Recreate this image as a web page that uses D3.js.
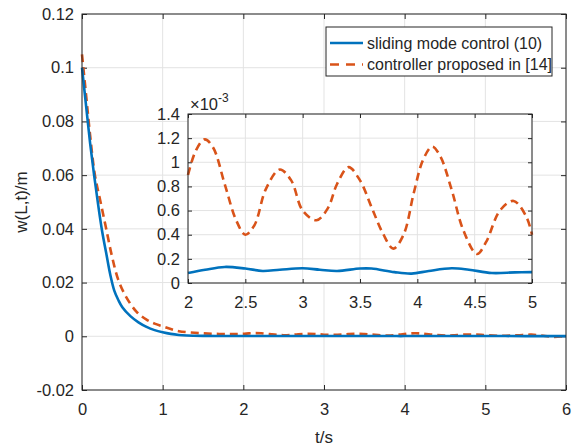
<!DOCTYPE html>
<html>
<head>
<meta charset="utf-8">
<script src="https://cdn.jsdelivr.net/npm/d3@7"></script>
<style>
  body { margin: 0; background: #fff; }
  svg { font-family: "Liberation Sans", Arial, Helvetica, sans-serif; }
  .tick text { fill: #262626; }
</style>
</head>
<body>
<svg id="chart"></svg>
<script>
// early transient, 0..2 s
const tEarly = [0, 0.05, 0.1, 0.15, 0.2, 0.25, 0.3, 0.35, 0.4, 0.45, 0.5, 0.6, 0.7, 0.8, 0.9, 1.0, 1.1, 1.2, 1.3, 1.5, 1.75];
const smcEarly = [0.100, 0.086, 0.072, 0.060, 0.049, 0.039, 0.031, 0.023, 0.017, 0.0135, 0.0108, 0.0075, 0.0052, 0.0035, 0.0023, 0.0015, 0.0009, 0.0005, 0.0003, 0.00015, 0.0001];
const tEarlyRef = [0, 0.05, 0.1, 0.16, 0.23, 0.3, 0.37, 0.45, 0.55, 0.68, 0.8, 0.9, 1.0, 1.1, 1.2, 1.35, 1.5, 1.65, 1.8, 1.9];
const refEarly = [0.105, 0.090, 0.075, 0.060, 0.050, 0.040, 0.030, 0.021, 0.0145, 0.009, 0.0062, 0.0047, 0.0037, 0.0027, 0.0019, 0.0014, 0.0011, 0.0009, 0.0008, 0.0008];

// zoomed window 2..5 s, values in 1e-3 m
const tInsetSmc = [2.0, 2.15, 2.32, 2.5, 2.65, 2.8, 3.0, 3.15, 3.3, 3.5, 3.6, 3.8, 3.95, 4.1, 4.3, 4.45, 4.65, 4.85, 5.0];
const smcInset = [0.083, 0.11, 0.133, 0.12, 0.10, 0.11, 0.122, 0.11, 0.10, 0.12, 0.12, 0.09, 0.078, 0.10, 0.122, 0.11, 0.083, 0.088, 0.09];
const tInsetRef = [2.0, 2.07, 2.146, 2.22, 2.32, 2.42, 2.5, 2.58, 2.68, 2.8, 2.9, 3.0, 3.12, 3.22, 3.3, 3.4, 3.5, 3.6, 3.7, 3.79, 3.88, 3.97, 4.05, 4.13, 4.2, 4.3, 4.4, 4.52, 4.6, 4.72, 4.84, 4.95, 5.0];
const refInset = [0.895, 1.10, 1.19, 1.12, 0.82, 0.52, 0.40, 0.48, 0.78, 0.94, 0.85, 0.60, 0.52, 0.62, 0.82, 0.96, 0.85, 0.63, 0.41, 0.285, 0.40, 0.75, 1.02, 1.13, 1.05, 0.77, 0.44, 0.24, 0.34, 0.60, 0.68, 0.55, 0.40];

// tail 5..6 s
const tLate = [5.25, 5.5, 5.75, 6.0];
const smcLate = [0.00008, 0.00007, 0.00006, 0.00005];
const tLateRef = [5.2, 5.4, 5.57, 5.72, 5.85, 6.0];
const refLate = [0.0002, 0.0004, 0.0006, 0.0002, -0.0002, 0.0001];

const xTicks = [0, 1, 2, 3, 4, 5, 6];
const yTicks = [-0.02, 0, 0.02, 0.04, 0.06, 0.08, 0.1, 0.12];
const insetXTicks = [2, 2.5, 3, 3.5, 4, 4.5, 5];
const insetYTicks = [0, 0.2, 0.4, 0.6, 0.8, 1, 1.2, 1.4];
const seriesNames = ["sliding mode control (10)", "controller proposed in [14]"];

const zip = (ts, vs, k = 1) => ts.map((t, i) => [t, vs[i] * k]);
const smcInsetPts = zip(tInsetSmc, smcInset);
const refInsetPts = zip(tInsetRef, refInset);
const smcAll = zip(tEarly, smcEarly).concat(zip(tInsetSmc, smcInset, 1e-3), zip(tLate, smcLate));
const refAll = zip(tEarlyRef, refEarly).concat(zip(tInsetRef, refInset, 1e-3), zip(tLateRef, refLate));

const width = 578, height = 447;
const blue = "#0072BD", orange = "#D95319", ink = "#262626", gridC = "#e3e3e3";
const svg = d3.select("#chart").attr("width", width).attr("height", height);

const m = { left: 82, top: 14, right: 566, bottom: 390 };
const x = d3.scaleLinear().domain([0, 6]).range([m.left, m.right]);
const y = d3.scaleLinear().domain([-0.02, 0.12]).range([m.bottom, m.top]);

const drawAxes = (g, xs, ys, xt, yt, fmtX, fmtY, tick, fs) => {
  const [x0, x1] = xs.range(), [y0, y1] = ys.range();
  g.append("rect").attr("x", x0).attr("y", y1).attr("width", x1 - x0).attr("height", y0 - y1).attr("fill", "#fff");
  // grid
  g.selectAll(".gx").data(xt).enter().append("line")
    .attr("x1", d => xs(d)).attr("x2", d => xs(d)).attr("y1", y0).attr("y2", y1)
    .attr("stroke", gridC).attr("stroke-width", 1);
  g.selectAll(".gy").data(yt).enter().append("line")
    .attr("y1", d => ys(d)).attr("y2", d => ys(d)).attr("x1", x0).attr("x2", x1)
    .attr("stroke", gridC).attr("stroke-width", 1);

  const style = (a) => {
    a.select(".domain").remove();
    a.selectAll(".tick line").attr("stroke", ink);
    a.selectAll("text").attr("font-size", fs).attr("font-family", null);
  };
  g.append("g").attr("transform", `translate(0,${y0})`)
    .call(d3.axisBottom(xs).tickValues(xt).tickFormat(fmtX).tickSizeInner(-tick).tickSizeOuter(0).tickPadding(13))
    .call(style);
  g.append("g").attr("transform", `translate(0,${y1})`)
    .call(d3.axisTop(xs).tickValues(xt).tickFormat("").tickSizeInner(-tick).tickSizeOuter(0))
    .call(style);
  g.append("g").attr("transform", `translate(${x0},0)`)
    .call(d3.axisLeft(ys).tickValues(yt).tickFormat(fmtY).tickSizeInner(-tick).tickSizeOuter(0).tickPadding(8))
    .call(style);
  g.append("g").attr("transform", `translate(${x1},0)`)
    .call(d3.axisRight(ys).tickValues(yt).tickFormat("").tickSizeInner(-tick).tickSizeOuter(0))
    .call(style);
};

const frame = (g, xs, ys) => {
  const [x0, x1] = xs.range(), [y0, y1] = ys.range();
  g.append("rect").attr("x", x0).attr("y", y1).attr("width", x1 - x0).attr("height", y0 - y1)
    .attr("fill", "none").attr("stroke", ink).attr("stroke-width", 1);
};

const fmt = d => String(d);

// main axes
const main = svg.append("g");
drawAxes(main, x, y, xTicks, yTicks, fmt, fmt, 5, 16.5);

const line = (xs, ys) => d3.line().x(d => xs(d[0])).y(d => ys(d[1])).curve(d3.curveCatmullRom);

main.append("path").datum(refAll).attr("d", line(x, y))
  .attr("fill", "none").attr("stroke", orange).attr("stroke-width", 2.6).attr("stroke-dasharray", "8,5");
main.append("path").datum(smcAll).attr("d", line(x, y))
  .attr("fill", "none").attr("stroke", blue).attr("stroke-width", 2.6);
frame(main, x, y);

// labels
svg.append("text").attr("x", (m.left + m.right) / 2).attr("y", 443)
  .attr("text-anchor", "middle").attr("font-size", 17).attr("fill", ink).text("t/s");
svg.append("text").attr("transform", `translate(27,${(m.top + m.bottom) / 2}) rotate(-90)`)
  .attr("text-anchor", "middle").attr("font-size", 17).attr("fill", ink).text("w(L,t)/m");

// inset
const xi = d3.scaleLinear().domain([2, 5]).range([188, 532]);
const yi = d3.scaleLinear().domain([0, 1.4]).range([283, 114]);
const inset = svg.append("g");
drawAxes(inset, xi, yi, insetXTicks, insetYTicks, fmt, fmt, 4, 16.5);
inset.append("path").datum(refInsetPts).attr("d", line(xi, yi))
  .attr("fill", "none").attr("stroke", orange).attr("stroke-width", 2.6).attr("stroke-dasharray", "8,5");
inset.append("path").datum(smcInsetPts).attr("d", line(xi, yi))
  .attr("fill", "none").attr("stroke", blue).attr("stroke-width", 2.6);
frame(inset, xi, yi);
const exp = inset.append("text").attr("x", 190).attr("y", 110).attr("font-size", 16.5).attr("fill", ink);
exp.append("tspan").text("\u00d710");
exp.append("tspan").attr("dy", -8).attr("font-size", 12).text("-3");

// legend
const lg = svg.append("g");
lg.append("rect").attr("x", 326).attr("y", 27).attr("width", 226).attr("height", 49)
  .attr("fill", "#fff").attr("stroke", ink).attr("stroke-width", 1);
[blue, orange].forEach((c, i) => {
  const yy = 43 + i * 21.5;
  lg.append("line").attr("x1", 330).attr("x2", 363).attr("y1", yy).attr("y2", yy)
    .attr("stroke", c).attr("stroke-width", 2.6).attr("stroke-dasharray", i ? "9,7" : null);
  lg.append("text").attr("x", 367).attr("y", yy + 5.5).attr("font-size", 16).attr("fill", ink).text(seriesNames[i]);
});
</script>
</body>
</html>
